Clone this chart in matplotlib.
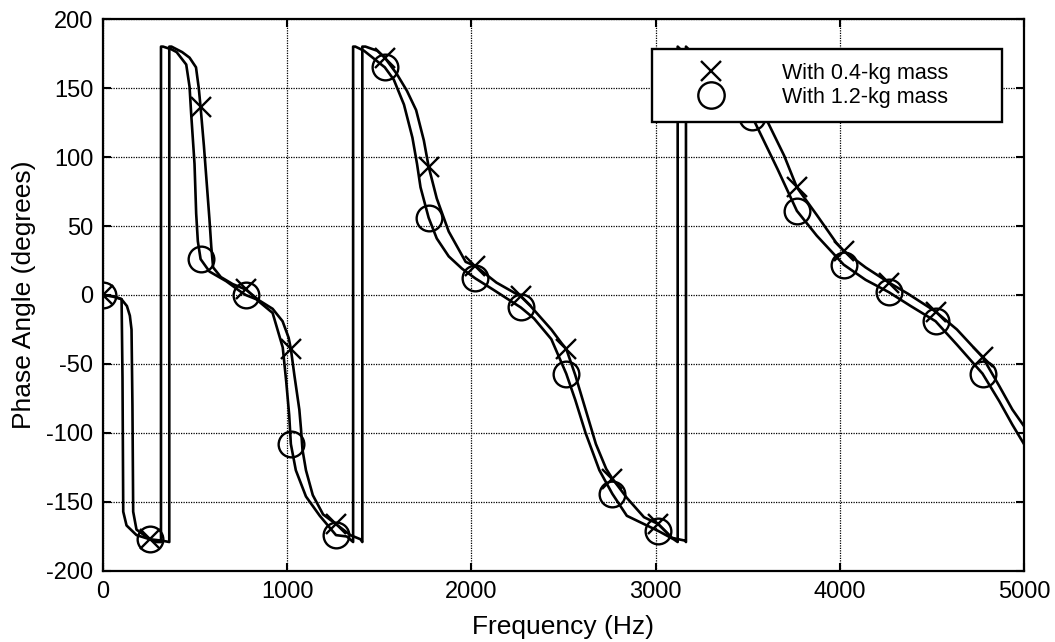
import matplotlib
matplotlib.use("Agg")
import matplotlib.pyplot as plt
from matplotlib.lines import Line2D

plt.rcParams['font.family'] = ['Liberation Sans', 'DejaVu Sans']

# ---- data ----
freq_04 = [0, 50, 100, 130, 146, 155, 160, 164, 182, 254, 320, 360, 360, 372, 430, 470, 505, 520, 530,
           548, 565, 578, 588, 598, 640, 703, 775, 849, 921, 975, 1008, 1020, 1039, 1066, 1075, 1083,
           1102, 1139, 1195, 1265, 1343, 1398, 1408, 1408, 1425, 1489, 1530, 1596, 1650, 1700, 1742,
           1768, 1812, 1877, 1969, 2022, 2136, 2268, 2321, 2434, 2490, 2515, 2564, 2620, 2676, 2732,
           2765, 2844, 2937, 3015, 3090, 3160, 3165, 3165, 3270, 3400, 3525, 3610, 3698, 3767, 3875,
           3980, 4021, 4140, 4267, 4369, 4520, 4636, 4775, 4866, 4937, 5000]
phase_04 = [0, -1, -3, -8, -15, -25, -80, -157, -170, -177, -178, -179, 180, 180, 176, 172, 165, 150, 136,
            108, 78, 55, 35, 20, 13, 8, 4, -4, -10, -19, -31, -39, -58, -83, -97, -112,
            -127, -145, -159, -166, -174, -177, -179, 180, 180, 177, 172, 160, 148, 134, 112,
            93, 70, 46, 24, 21, 9, -1, -8, -25, -35, -39, -58, -83, -108, -126,
            -133, -147, -161, -166, -176, -178, -179, 180, 166, 156, 142, 125, 101, 78, 58,
            38, 32, 20, 9, 1, -12, -25, -45, -66, -83, -95]

freq_12 = [0, 60, 101, 106, 110, 128, 182, 254, 290, 315, 315, 326, 372, 400, 452, 470, 479, 497, 506,
           515, 530, 578, 669, 741, 775, 831, 921, 976, 995, 1011, 1020, 1047, 1102, 1177, 1265, 1324,
           1358, 1358, 1370, 1417, 1530, 1579, 1634, 1680, 1705, 1724, 1768, 1812, 1877, 1950, 2022,
           2117, 2268, 2340, 2434, 2515, 2564, 2620, 2695, 2765, 2844, 3015, 3098, 3120, 3120, 3270,
           3400, 3525, 3663, 3767, 3875, 4021, 4140, 4267, 4385, 4520, 4636, 4775, 4866, 4937, 5000]
phase_12 = [0, -1, -3, -60, -157, -167, -174, -177, -179, -179, 180, 180, 178, 176, 167, 151, 131, 95, 59,
            39, 26, 17, 10, 3, 0, -3, -13, -38, -63, -87, -108, -127, -146, -160, -174, -175,
            -179, 180, 180, 177, 165, 156, 138, 114, 95, 78, 56, 41, 28, 19, 12,
            4, -9, -17, -32, -57, -76, -100, -127, -144, -160, -171, -177, -179, 180, 160,
            146, 129, 91, 61, 43, 22, 11, 2, -8, -19, -36, -57, -77, -94, -108]

marker_freq = [0, 254, 530, 775, 1020, 1265, 1530, 1768, 2022, 2268, 2515, 2765, 3015, 3270,
               3525, 3767, 4021, 4267, 4520, 4775]
marker_phase_04 = [0, -177, 136, 4, -39, -166, 172, 93, 21, -1, -39, -133, -166, 166,
                   142, 78, 32, 9, -12, -45]
marker_phase_12 = [0, -177, 26, 0, -108, -174, 165, 56, 12, -9, -57, -144, -171, 160,
                   129, 61, 22, 2, -19, -57]

x_ticks = [0, 1000, 2000, 3000, 4000, 5000]
y_ticks = [-200, -150, -100, -50, 0, 50, 100, 150, 200]
legend_labels = ['With 0.4-kg mass', 'With 1.2-kg mass']

# ---- figure ----
fig = plt.figure(figsize=(10.55, 6.42), dpi=100)
ax = fig.add_axes([0.0976, 0.1106, 0.8730, 0.8598])

ax.plot(freq_04, phase_04, color='black', lw=1.9, zorder=3)
ax.plot(freq_12, phase_12, color='black', lw=1.9, zorder=3)
ax.plot(marker_freq, marker_phase_04, ls='none', marker='x', ms=14, mew=1.7,
        color='black', zorder=4)
ax.plot(marker_freq, marker_phase_12, ls='none', marker='o', ms=18.5, mew=1.7,
        mfc='none', mec='black', zorder=4)

ax.set_xlim(0, 5000)
ax.set_ylim(-200, 200)
ax.set_xticks(x_ticks)
ax.set_yticks(y_ticks)
ax.set_yticklabels([str(v) for v in y_ticks])
ax.tick_params(direction='in', length=6, width=1.5, top=True, right=True,
               labelsize=17, pad=7, colors='black')
ax.grid(True, color='black', linestyle=(0, (1, 1.0)), linewidth=0.9)
for s in ax.spines.values():
    s.set_linewidth(1.6)
    s.set_color('black')

ax.set_xlabel('Frequency (Hz)', fontsize=19, labelpad=9)
ax.set_ylabel('Phase Angle (degrees)', fontsize=19, labelpad=7)

handles = [Line2D([], [], ls='none', marker='x', ms=14, mew=1.7, color='black'),
           Line2D([], [], ls='none', marker='o', ms=19, mew=1.7, mfc='none', mec='black')]
leg = ax.legend(handles, legend_labels, loc='upper left',
                bbox_to_anchor=(0.596, 0.815, 0.38, 0.1305), mode='expand',
                fontsize=15.5, frameon=True, fancybox=False, framealpha=1,
                borderpad=0.63, labelspacing=0.155, handlelength=4.2, handletextpad=1.2,
                borderaxespad=0)
leg.get_frame().set_edgecolor('black')
leg.get_frame().set_linewidth(1.7)
leg.set_zorder(10)

fig.savefig('out.png', dpi=100)
